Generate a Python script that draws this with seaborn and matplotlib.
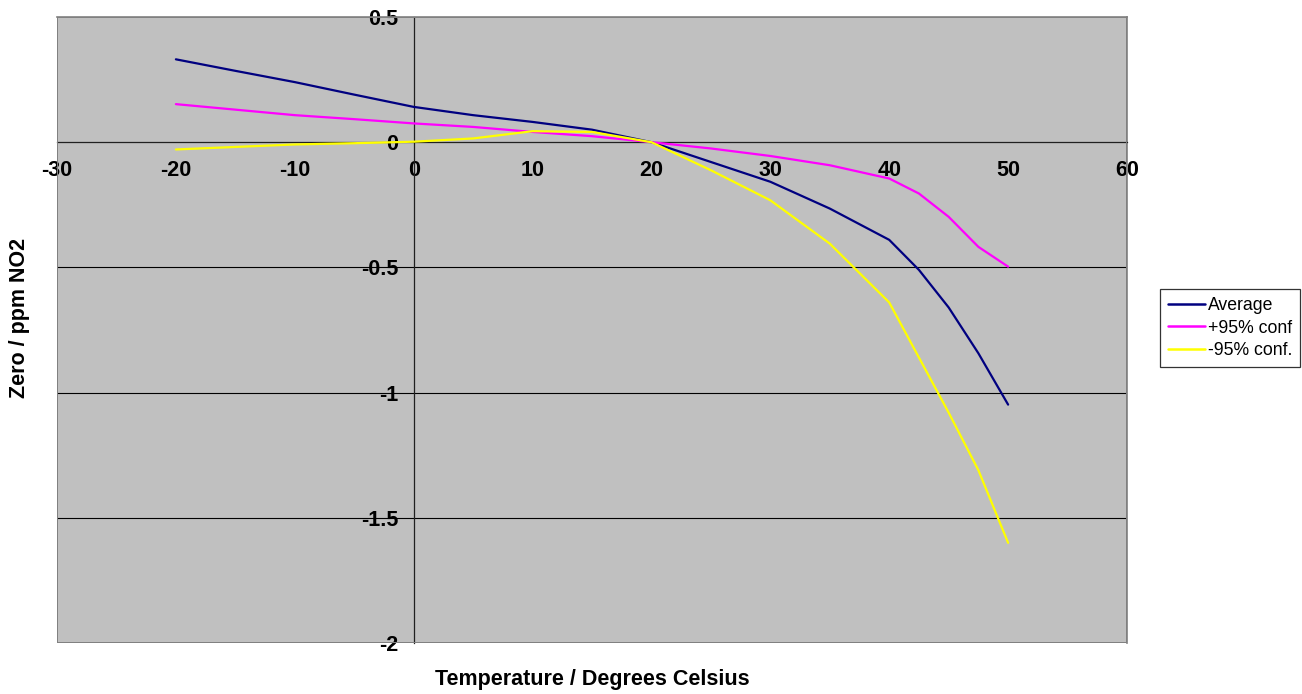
import numpy as np
import pandas as pd
import matplotlib
matplotlib.use("Agg")
import matplotlib.pyplot as plt
import seaborn as sns
from matplotlib.lines import Line2D

temperature = [-20, -15, -10, -5, 0, 5, 10, 15, 20, 25, 30, 35, 40, 42.5, 45, 47.5, 50]
average = [0.331, 0.285, 0.240, 0.190, 0.141, 0.108, 0.081, 0.050, 0.0,
           -0.079, -0.158, -0.265, -0.390, -0.510, -0.660, -0.843, -1.048]
conf_plus = [0.152, 0.130, 0.108, 0.092, 0.075, 0.061, 0.041, 0.024, 0.0,
             -0.025, -0.055, -0.092, -0.145, -0.205, -0.298, -0.418, -0.497]
conf_minus = [-0.029, -0.019, -0.009, -0.004, 0.002, 0.015, 0.044, 0.041, 0.0,
              -0.112, -0.232, -0.405, -0.640, -0.860, -1.080, -1.310, -1.600]
series_names = ["Average", "+95% conf", "-95% conf."]
series_colors = ["#000080", "#FF00FF", "#FFFF00"]
x_ticks = [-30, -20, -10, 0, 10, 20, 30, 40, 50, 60]
y_ticks = [0.5, 0, -0.5, -1, -1.5, -2]
y_tick_labels = ["0.5", "0", "-0.5", "-1", "-1.5", "-2"]

df = pd.concat([
    pd.DataFrame({"Temperature": temperature, "Value": vals, "Series": name})
    for name, vals in zip(series_names, [average, conf_plus, conf_minus])
])

sns.set_style("white")
plt.rcParams['font.family'] = ['Liberation Sans', 'DejaVu Sans']
plt.rcParams['text.color'] = 'black'
plt.rcParams['xtick.color'] = 'black'
plt.rcParams['ytick.color'] = 'black'

fig = plt.figure(figsize=(13.02, 6.94), dpi=100)
ax = fig.add_axes([57/1302, 1-643/694, (1127-57)/1302, (643-17)/694])
ax.set_facecolor("#C0C0C0")

for y in [-0.5, -1, -1.5]:
    ax.axhline(y, color="#000000", lw=0.8, zorder=1)

sns.lineplot(data=df, x="Temperature", y="Value", hue="Series",
             palette=dict(zip(series_names, series_colors)),
             hue_order=series_names, ax=ax, lw=1.6, legend=False,
             sort=False, estimator=None, zorder=3)

ax.set_xlim(-30, 60)
ax.set_ylim(-2, 0.5)

for s in ["top", "right"]:
    ax.spines[s].set_color("#808080")
    ax.spines[s].set_linewidth(1.2)
ax.spines["left"].set_position(("data", 0))
ax.spines["bottom"].set_position(("data", 0))
ax.spines["left"].set_color("#202020")
ax.spines["bottom"].set_color("#202020")
ax.spines["left"].set_linewidth(0.9)
ax.spines["bottom"].set_linewidth(0.9)
border = plt.Rectangle((0, 0), 1, 1, transform=ax.transAxes, fill=False,
                       edgecolor="#808080", lw=1.4, zorder=5)
ax.add_patch(border)

ax.set_xticks(x_ticks)
ax.set_xticklabels([str(t) for t in x_ticks], fontsize=15.5, fontweight="bold")
ax.set_yticks(y_ticks)
ax.set_yticklabels(y_tick_labels, fontsize=15.5, fontweight="bold")
ax.tick_params(axis="x", direction="in", length=5, width=0.9, pad=13, color="#202020")
ax.tick_params(axis="y", direction="out", length=4, width=0.9, pad=7, color="#202020")
ax.set_xlabel("")
ax.set_ylabel("")

fig.text(592/1302, 1-679/694, "Temperature / Degrees Celsius", ha="center", va="center",
         fontsize=15.5, fontweight="bold")
fig.text(20/1302, 1-318/694, "Zero / ppm NO2", ha="center", va="center",
         rotation=90, fontsize=15.5, fontweight="bold")

handles = [Line2D([0], [0], color=c, lw=1.8) for c in series_colors]
leg = fig.legend(handles, series_names, loc="upper left",
                 bbox_to_anchor=(1160/1302, 1-289/694), frameon=True,
                 fancybox=False, edgecolor="black", fontsize=12.7,
                 handlelength=2.1, handletextpad=0.15, labelspacing=0.32,
                 borderpad=0.45, borderaxespad=0)
leg.get_frame().set_linewidth(0.9)

fig.savefig("out.png", dpi=100)
